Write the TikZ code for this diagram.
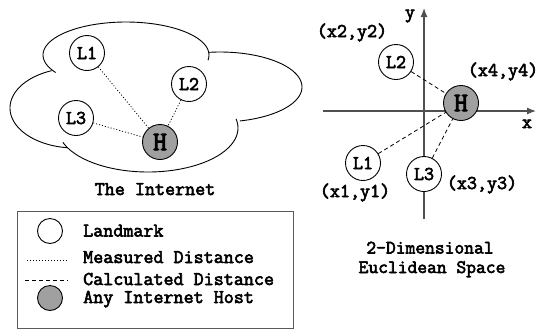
\documentclass[tikz,border=0pt]{standalone}
\usepackage{fontspec}
\setmonofont{Latin Modern Mono}[AutoFakeBold=3]
\usetikzlibrary{arrows.meta}
\definecolor{hostgray}{RGB}{160,160,160}
\definecolor{axisgray}{RGB}{80,80,80}
\definecolor{boxgray}{RGB}{90,90,90}
\begin{document}
\begin{tikzpicture}[x=1pt,y=-1pt,
  lm/.style={circle,draw,line width=0.9pt,minimum size=35pt,inner sep=0pt,font=\fontsize{19.5}{19.5}\selectfont\ttfamily\bfseries},
  host/.style={lm,fill=hostgray,font=\fontsize{27}{27}\selectfont\ttfamily\bfseries},
  lgcircle/.style={circle,draw,line width=0.9pt,minimum size=25pt,inner sep=0pt},
  lbl/.style={anchor=base,inner sep=0pt,text height=12pt,text depth=3pt,font=\fontsize{19.5}{19.5}\selectfont\ttfamily\bfseries},
  lgtext/.style={anchor=base west,inner sep=0pt,text height=12pt,text depth=3pt,font=\fontsize{19.5}{19.5}\selectfont\ttfamily\bfseries},
  meas/.style={line width=0.8pt,dash pattern=on 1pt off 2pt},
  calcd/.style={line width=0.8pt,dash pattern=on 4pt off 3pt},
  axisline/.style={line width=1.2pt,draw=axisgray,-{Latex[length=9pt,width=7pt]}},
  cloudline/.style={line width=0.9pt}]
\useasboundingbox (0,0) rectangle (538,333);

% ---------- The Internet cloud ----------
\draw[cloudline] plot[domain=148:369,samples=60,smooth] ({126+83*cos(\x)},{55+33*sin(\x)});
\draw[cloudline] plot[domain=-98:76,samples=60,smooth] ({220+82*cos(\x)},{87+35*sin(\x)});
\draw[cloudline] plot[domain=-12:161,samples=60,smooth] ({148+90*cos(\x)},{128+44*sin(\x)});
\draw[cloudline] plot[domain=97:249,samples=60,smooth] ({75+65*cos(\x)},{108+40*sin(\x)});

\node[lm] (iL1) at (87,53) {L1};
\node[lm] (iL2) at (189,84) {L2};
\node[lm] (iL3) at (76,118) {L3};
\node[host] (iH) at (160,142) {H};
\draw[meas] (iL1) -- (iH);
\draw[meas] (iL2) -- (iH);
\draw[meas] (iL3) -- (iH);
\node[lbl] (tinternet) at (155,195) {The Internet};

% ---------- Euclidean space ----------
\coordinate (xa) at (323,111);
\coordinate (xb) at (536,111);
\coordinate (ya) at (424,219);
\coordinate (yb) at (424,8);
\draw[axisline] (xa) -- (xb);
\draw[axisline] (ya) -- (yb);
\node[lbl] (ylab) at (410,18) {y};
\node[lbl] (xlab) at (527,128) {x};

\node[lm,fill=white] (eL2) at (396,62) {L2};
\node[lm,fill=white] (eL1) at (363,163) {L1};
\node[lm,fill=white] (eL3) at (424,174) {L3};
\node[host] (eH) at (461,103) {H};
\draw[calcd] (eL2) -- (eH);
\draw[calcd] (eL1) -- (eH);
\draw[calcd] (eL3) -- (eH);

\node[lbl] (p2) at (352,37) {(x2,y2)};
\node[lbl] (p4) at (503,76) {(x4,y4)};
\node[lbl] (p1) at (355,197) {(x1,y1)};
\node[lbl] (p3) at (482,189) {(x3,y3)};

\node[lbl,font=\fontsize{19}{19}\selectfont\ttfamily\bfseries] (t2d) at (430,253.5) {2-Dimensional};
\node[lbl,font=\fontsize{19}{19}\selectfont\ttfamily\bfseries] (teuc) at (432,273) {Euclidean Space};

% ---------- Legend ----------
\node[draw=boxgray,line width=0.9pt,minimum width=276pt,minimum height=117pt,inner sep=0pt] (legend) at (155,270) {};
\node[lgcircle] (lgL) at (50,231) {};
\node[lgtext] (lgLt) at (83,236.5) {Landmark};
\coordinate (m1) at (27,260);
\coordinate (m2) at (68,260);
\draw[meas] (m1) -- (m2);
\node[lgtext] (lgMt) at (83,263) {Measured Distance};
\coordinate (c1) at (25,280);
\coordinate (c2) at (68,280);
\draw[calcd] (c1) -- (c2);
\node[lgtext] (lgCt) at (83,285) {Calculated Distance};
\node[lgcircle,fill=hostgray] (lgH) at (50,298) {};
\node[lgtext] (lgHt) at (83,303) {Any Internet Host};
\end{tikzpicture}
\end{document}
